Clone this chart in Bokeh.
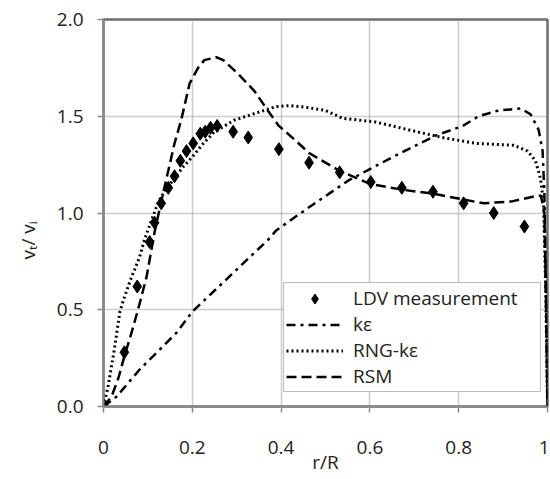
from bokeh.plotting import figure
from bokeh.models import FixedTicker, Legend, LegendItem, Title
from bokeh.embed import file_html
from bokeh.resources import INLINE

# LDV measurement
ldv_r = [0.0, 0.047, 0.076, 0.104, 0.115, 0.13, 0.146, 0.16, 0.173, 0.187, 0.202, 0.218, 0.229, 0.241, 0.256,
         0.292, 0.326, 0.395, 0.463, 0.532, 0.602, 0.672, 0.742, 0.811, 0.879, 0.948]
ldv_v = [0.01, 0.28, 0.62, 0.85, 0.95, 1.05, 1.13, 1.19, 1.27, 1.32, 1.36, 1.41, 1.42, 1.44, 1.45,
         1.42, 1.39, 1.33, 1.26, 1.21, 1.16, 1.13, 1.11, 1.05, 1.00, 0.93]

# k-epsilon
ke_r = [0.0, 0.029, 0.081, 0.164, 0.2, 0.37, 0.389, 0.463, 0.553, 0.652, 0.748, 0.809, 0.845, 0.89,
        0.94, 0.962, 0.98, 0.989, 0.993, 0.997, 1.0]
ke_v = [0.0, 0.05, 0.19, 0.38, 0.49, 0.86, 0.91, 1.03, 1.17, 1.29, 1.40, 1.45, 1.50, 1.53,
        1.54, 1.51, 1.43, 1.32, 1.10, 0.50, 0.0]

# RNG k-epsilon
rng_r = [0.0, 0.01, 0.024, 0.037, 0.045, 0.06, 0.081, 0.092, 0.103, 0.124, 0.14, 0.16, 0.18, 0.2, 0.225,
         0.25, 0.295, 0.348, 0.389, 0.42, 0.46, 0.5, 0.538, 0.613, 0.687, 0.763, 0.838, 0.88, 0.924,
         0.955, 0.973, 0.984, 0.991, 0.996, 1.0]
rng_v = [0.0, 0.1, 0.29, 0.49, 0.55, 0.65, 0.77, 0.86, 0.93, 1.06, 1.12, 1.18, 1.24, 1.29, 1.36,
         1.42, 1.48, 1.52, 1.55, 1.555, 1.545, 1.53, 1.49, 1.47, 1.43, 1.39, 1.36, 1.355, 1.35,
         1.32, 1.27, 1.18, 1.06, 0.6, 0.0]

# RSM
rsm_r = [0.0, 0.018, 0.034, 0.047, 0.063, 0.08, 0.097, 0.115, 0.13, 0.146, 0.16, 0.175, 0.194, 0.213,
         0.227, 0.254, 0.27, 0.303, 0.34, 0.37, 0.395, 0.43, 0.463, 0.5, 0.53, 0.6, 0.674, 0.742,
         0.81, 0.856, 0.92, 0.969, 0.985, 0.993, 0.997, 1.0]
rsm_v = [0.0, 0.05, 0.15, 0.26, 0.38, 0.52, 0.67, 0.9, 1.06, 1.22, 1.36, 1.48, 1.67, 1.75,
         1.79, 1.805, 1.79, 1.72, 1.63, 1.53, 1.45, 1.38, 1.31, 1.26, 1.22, 1.15, 1.12, 1.10,
         1.07, 1.05, 1.06, 1.085, 1.09, 1.0, 0.5, 0.0]

x_ticks = [0, 0.2, 0.4, 0.6, 0.8, 1.0]
x_tick_labels = ["0", "0.2", "0.4", "0.6", "0.8", "1"]
y_ticks = [0.0, 0.5, 1.0, 1.5, 2.0]
y_tick_labels = ["0.0", "0.5", "1.0", "1.5", "2.0"]

FONT = "Open Sans"
FS = "19px"

p = figure(width=549, height=479, x_range=(0, 1), y_range=(0, 2),
           output_backend="svg", toolbar_location=None,
           min_border_left=102, min_border_right=2, min_border_top=19, min_border_bottom=73)

p.outline_line_color = "#6e6e6e"
p.outline_line_width = 2.5
p.background_fill_color = "white"
p.border_fill_color = "white"

for ax in (p.xaxis[0], p.yaxis[0]):
    ax.axis_line_color = "#8a8a8a"
    ax.axis_line_width = 2
    ax.major_tick_line_color = "#8a8a8a"
    ax.major_tick_line_width = 1.5
    ax.major_tick_out = 6
    ax.major_tick_in = 0
    ax.minor_tick_line_color = None
    ax.major_label_text_font = FONT
    ax.major_label_text_font_size = FS
    ax.major_label_text_color = "#222222"
    ax.axis_label_text_font = FONT
    ax.axis_label_text_font_size = FS
    ax.axis_label_text_font_style = "normal"
    ax.axis_label_text_color = "#222222"

p.xaxis.ticker = FixedTicker(ticks=x_ticks)
p.xaxis.major_label_overrides = {t: l for t, l in zip(x_ticks, x_tick_labels)}
p.yaxis.ticker = FixedTicker(ticks=y_ticks)
p.yaxis.major_label_overrides = {t: l for t, l in zip(y_ticks, y_tick_labels)}
p.xaxis.axis_label = "r/R"
p.xaxis.major_label_standoff = 28
p.xaxis.axis_label_standoff = -8
p.yaxis.major_label_standoff = 14

# y-axis title, slightly below the frame centre as in the original
ytitle = Title(text="v\u209c/ v\u1d62", align="left", offset=147, standoff=25,
               text_font=FONT, text_font_size=FS, text_font_style="normal",
               text_color="#222222")
p.add_layout(ytitle, "left")

p.xgrid.grid_line_color = "#9a9a9a"
p.ygrid.grid_line_color = "#9a9a9a"
p.xgrid.grid_line_dash = "1 1"
p.ygrid.grid_line_dash = "1 1"
p.xgrid.grid_line_width = 1.5
p.ygrid.grid_line_width = 1.5

r_ke = p.line(ke_r, ke_v, line_color="black", line_width=2.5, line_dash="9 5 3 5")
r_rng = p.line(rng_r, rng_v, line_color="black", line_width=3, line_dash="2 3")
r_rsm = p.line(rsm_r, rsm_v, line_color="black", line_width=2.5, line_dash="10 5")
r_ldv = p.scatter(ldv_r, ldv_v, marker="diamond", size=13, fill_color="black", line_color="black")

legend = Legend(items=[
    LegendItem(label="LDV measurement", renderers=[r_ldv]),
    LegendItem(label="k\u03b5", renderers=[r_ke]),
    LegendItem(label="RNG-k\u03b5", renderers=[r_rng]),
    LegendItem(label="RSM", renderers=[r_rsm]),
], location=(180, 14))
legend.label_text_font = FONT
legend.label_text_font_size = FS
legend.label_text_color = "#222222"
legend.glyph_width = 57
legend.glyph_height = 25
legend.label_height = 25
legend.label_width = 185
legend.label_standoff = 10
legend.spacing = 0
legend.padding = 2
legend.margin = 0
legend.border_line_color = "#777777"
legend.border_line_width = 1.5
legend.background_fill_alpha = 1.0
p.add_layout(legend, "center")

open("out.html", "w").write(file_html(p, INLINE))
